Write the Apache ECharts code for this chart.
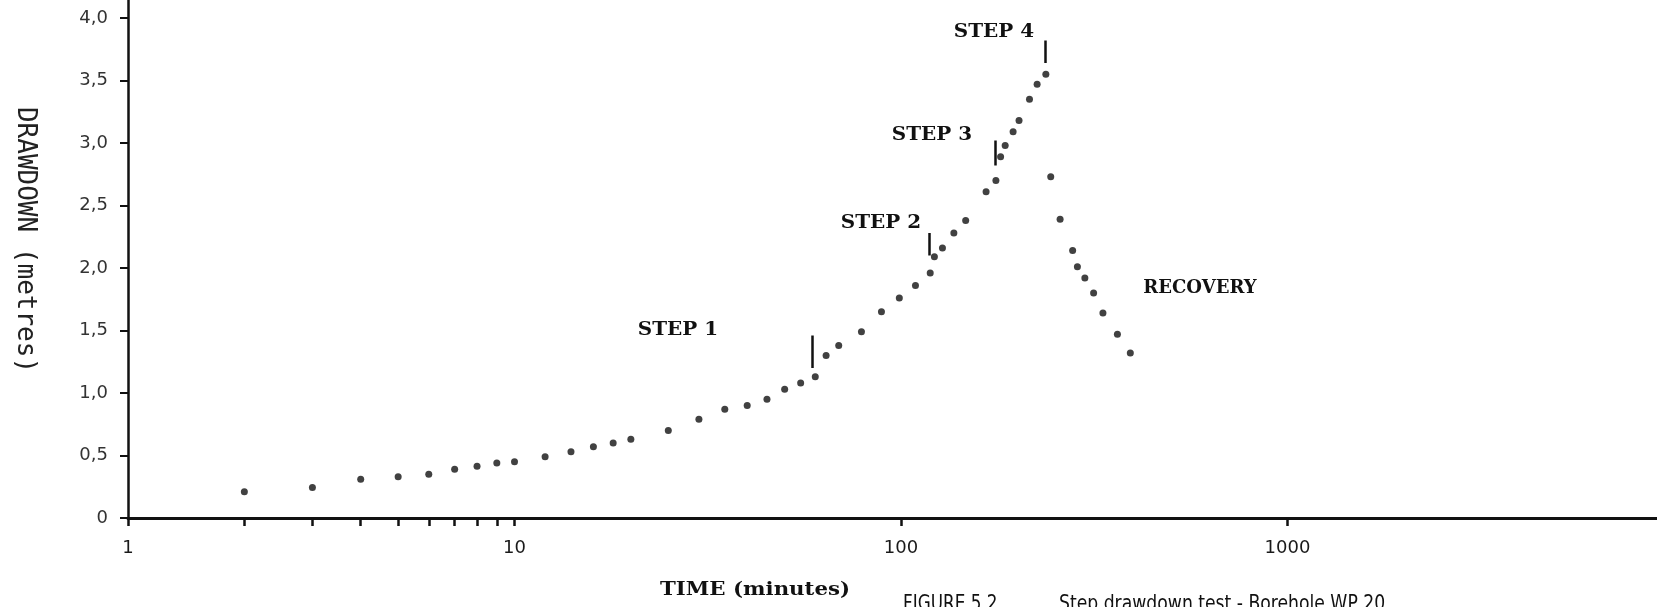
<!DOCTYPE html>
<html>
<head>
<meta charset="utf-8">
<script src="https://cdn.jsdelivr.net/npm/echarts@6/dist/echarts.min.js"></script>
<style>
  html, body { margin: 0; padding: 0; background: #ffffff; }
  #chart { width: 1657px; height: 607px; }
</style>
</head>
<body>
<div id="chart"></div>
<script>
// Step drawdown test: drawdown (m) against time since pumping began (min), log time axis.

// Pumping phase (steps 1-4)
const pumpTime = [2, 3, 4, 5, 6, 7, 8, 9, 10, 12, 14, 16, 18, 20, 25, 30, 35, 40, 45, 50, 55, 60,
  64, 69, 79, 89, 99, 109, 119, 122, 128, 137, 147, 166, 176, 181, 186, 195, 202, 215, 225, 237];
const pumpDrawdown = [0.21, 0.245, 0.31, 0.33, 0.35, 0.39, 0.415, 0.44, 0.45, 0.49, 0.53, 0.57, 0.60, 0.63, 0.70, 0.79, 0.87, 0.90, 0.95, 1.03, 1.08, 1.13,
  1.30, 1.38, 1.49, 1.65, 1.76, 1.86, 1.96, 2.09, 2.16, 2.28, 2.38, 2.61, 2.70, 2.89, 2.98, 3.09, 3.18, 3.35, 3.47, 3.55];

// Recovery after the pump was stopped
const recoveryTime = [244, 258, 278, 286, 299, 315, 333, 363, 392];
const recoveryDrawdown = [2.73, 2.39, 2.14, 2.01, 1.92, 1.80, 1.64, 1.47, 1.32];

// Short vertical marks where each pumping step begins: [time, lower drawdown, upper drawdown]
const stepMarks = [[59, 1.20, 1.46], [118, 2.10, 2.28], [175, 2.82, 3.02], [236, 3.64, 3.82]];

// Axis ticks and labels
const xTickValues = [1, 2, 3, 4, 5, 6, 7, 8, 9, 10, 100, 1000];
const xLabelValues = [1, 10, 100, 1000];
const yTickValues = [0, 0.5, 1.0, 1.5, 2.0, 2.5, 3.0, 3.5, 4.0];
const yTickLabels = ['0', '0,5', '1,0', '1,5', '2,0', '2,5', '3,0', '3,5', '4,0'];

// Texts
const stepLabels = ['STEP 1', 'STEP 2', 'STEP 3', 'STEP 4'];
const recoveryLabel = 'RECOVERY';
const xTitle = 'TIME (minutes)';
const yTitle = 'DRAWDOWN (metres)';
const figureNumber = 'FIGURE 5.2';
const figureCaption = 'Step drawdown test - Borehole WP 20';

const INK = '#111111';
const TYPE_FONT = '"DejaVu Serif", "Liberation Serif", serif';
const CAPTION_FONT = '22px "Liberation Sans Narrow", "DejaVu Sans Condensed", "Liberation Sans", sans-serif';

const pumpPoints = pumpTime.map((t, i) => [t, pumpDrawdown[i]]);
const recoveryPoints = recoveryTime.map((t, i) => [t, recoveryDrawdown[i]]);
const stepLines = stepMarks.map(m => [{ coord: [m[0], m[1]] }, { coord: [m[0], m[2]] }]);

const stepLabelPos = [[678, 330], [881, 223], [932, 135], [994, 32]];

const chart = echarts.init(document.getElementById('chart'), null, { renderer: 'canvas' });

chart.setOption({
  backgroundColor: '#ffffff',
  animation: false,
  grid: { left: 128, right: 0, top: 0, bottom: 89, containLabel: false },
  xAxis: {
    type: 'log',
    logBase: 10,
    min: 1,
    max: 9036,
    axisLine: { show: true, lineStyle: { color: INK, width: 3 } },
    axisTick: { show: true, inside: false, length: 8, lineStyle: { color: INK, width: 2.5 }, customValues: xTickValues },
    minorTick: { show: false },
    splitLine: { show: false },
    axisLabel: {
      customValues: xLabelValues,
      margin: 21,
      color: '#1a1a1a',
      fontFamily: '"DejaVu Sans", sans-serif',
      fontSize: 18,
      formatter: v => String(Math.round(v))
    }
  },
  yAxis: {
    type: 'value',
    min: 0,
    max: 4.144,
    axisLine: { show: true, onZero: false, lineStyle: { color: INK, width: 2.5 } },
    axisTick: { show: true, inside: false, length: 8, lineStyle: { color: INK, width: 2 }, customValues: yTickValues },
    splitLine: { show: false },
    axisLabel: {
      customValues: yTickValues,
      margin: 20,
      color: '#333',
      fontFamily: '"DejaVu Sans", sans-serif',
      fontSize: 18,
      formatter: v => {
        const i = yTickValues.findIndex(y => Math.abs(y - v) < 1e-6);
        return i >= 0 ? yTickLabels[i] : '';
      }
    }
  },
  series: [
    {
      name: 'Pumping',
      type: 'scatter',
      data: pumpPoints,
      symbol: 'circle',
      symbolSize: 7,
      itemStyle: { color: INK },
      markLine: {
        silent: true,
        symbol: ['none', 'none'],
        label: { show: false },
        lineStyle: { color: INK, width: 2.5, type: 'solid' },
        data: stepLines
      }
    },
    {
      name: 'Recovery',
      type: 'scatter',
      data: recoveryPoints,
      symbol: 'circle',
      symbolSize: 7,
      itemStyle: { color: INK }
    }
  ],
  graphic: [
    ...stepLabels.map((s, i) => ({
      type: 'text',
      x: stepLabelPos[i][0],
      y: stepLabelPos[i][1],
      scaleX: 1.05,
      style: { text: s, fill: INK, font: 'bold 19px ' + TYPE_FONT, align: 'center', verticalAlign: 'middle' }
    })),
    {
      type: 'text', x: 1200, y: 288,
      style: { text: recoveryLabel, fill: INK, font: 'bold 18px ' + TYPE_FONT, align: 'center', verticalAlign: 'middle' }
    },
    {
      type: 'text', x: 755, y: 590, scaleX: 1.12,
      style: { text: xTitle, fill: INK, font: 'bold 19px ' + TYPE_FONT, align: 'center', verticalAlign: 'middle' }
    },
    {
      type: 'text', x: 25, y: 240, rotation: -Math.PI / 2,
      style: { text: yTitle, fill: '#222', font: '26px "DejaVu Sans Mono", monospace', align: 'center', verticalAlign: 'middle' }
    },
    {
      type: 'text', x: 903, y: 593, scaleX: 0.85,
      style: { text: figureNumber, fill: INK, font: CAPTION_FONT, align: 'left', verticalAlign: 'top' }
    },
    {
      type: 'text', x: 1059, y: 593, scaleX: 0.87,
      style: { text: figureCaption, fill: INK, font: CAPTION_FONT, align: 'left', verticalAlign: 'top' }
    }
  ]
});
</script>
</body>
</html>
